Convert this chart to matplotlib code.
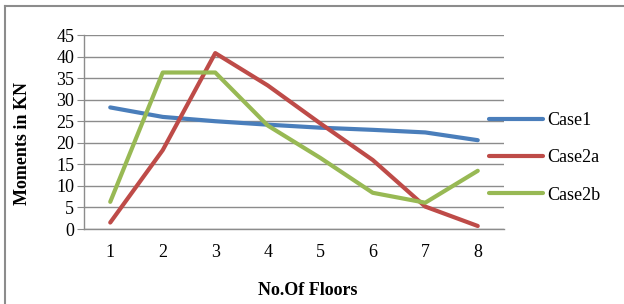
import numpy as np
import matplotlib.pyplot as plt
from matplotlib.lines import Line2D

plt.rcParams['font.family'] = ['Liberation Serif', 'DejaVu Serif']

floors = [1, 2, 3, 4, 5, 6, 7, 8]
case1 = [28.2, 26.0, 25.0, 24.2, 23.5, 23.0, 22.4, 20.6]
case2a = [1.5, 18.3, 40.8, 33.3, 24.5, 16.0, 5.2, 0.7]
case2b = [6.3, 36.3, 36.3, 24.0, 16.5, 8.4, 6.1, 13.5]

series = [("Case1", case1, "#4A7EBB"),
          ("Case2a", case2a, "#BE4B48"),
          ("Case2b", case2b, "#98B954")]

fig = plt.figure(figsize=(6.24, 3.04), dpi=100)
ax = fig.add_axes([84/624, 1-229/304, 420/624, 194/304])

x = np.arange(len(floors))
for name, vals, col in series:
    ax.plot(x, vals, color=col, lw=3.0, label=name, solid_capstyle='round',
            solid_joinstyle='round', zorder=3)

ax.set_xlim(-0.5, len(floors)-0.5)
ax.set_ylim(0, 45)
ax.set_yticks(np.arange(0, 46, 5))
ax.set_xticks(x)
ax.set_xticklabels([str(f) for f in floors])
ax.grid(axis='y', color='#8c8c8c', lw=1.0, zorder=1)
for s in ['top', 'right']:
    ax.spines[s].set_visible(False)
ax.spines['left'].set_color('#8c8c8c')
ax.spines['bottom'].set_color('#8c8c8c')
ax.spines['left'].set_linewidth(1.0)
ax.spines['bottom'].set_linewidth(1.0)
ax.tick_params(axis='y', length=5, color='#8c8c8c', labelsize=13, pad=2)
ax.tick_params(axis='x', length=0, labelsize=13, pad=11)

ax.set_ylabel("Moments in KN", fontsize=13, fontweight='bold', labelpad=18)
ax.set_xlabel("No.Of Floors", fontsize=13, fontweight='bold', labelpad=15)
ax.yaxis.label.set_y(0.44)
ax.xaxis.label.set_x(0.533)

fig.legend(loc='center left', bbox_to_anchor=(489/624, 1-158/304), frameon=False,
           fontsize=13, handlelength=3.0, handletextpad=0.22, labelspacing=1.12,
           borderpad=0, borderaxespad=0)

# outer chart border (clipped on right and bottom)
fig.add_artist(Line2D([5/624, 1], [1-6/304, 1-6/304], color='#8c8c8c', lw=1.5,
                      transform=fig.transFigure))
fig.add_artist(Line2D([5/624, 5/624], [0, 1-6/304], color='#8c8c8c', lw=1.5,
                      transform=fig.transFigure))

fig.savefig("out.png", dpi=100)
